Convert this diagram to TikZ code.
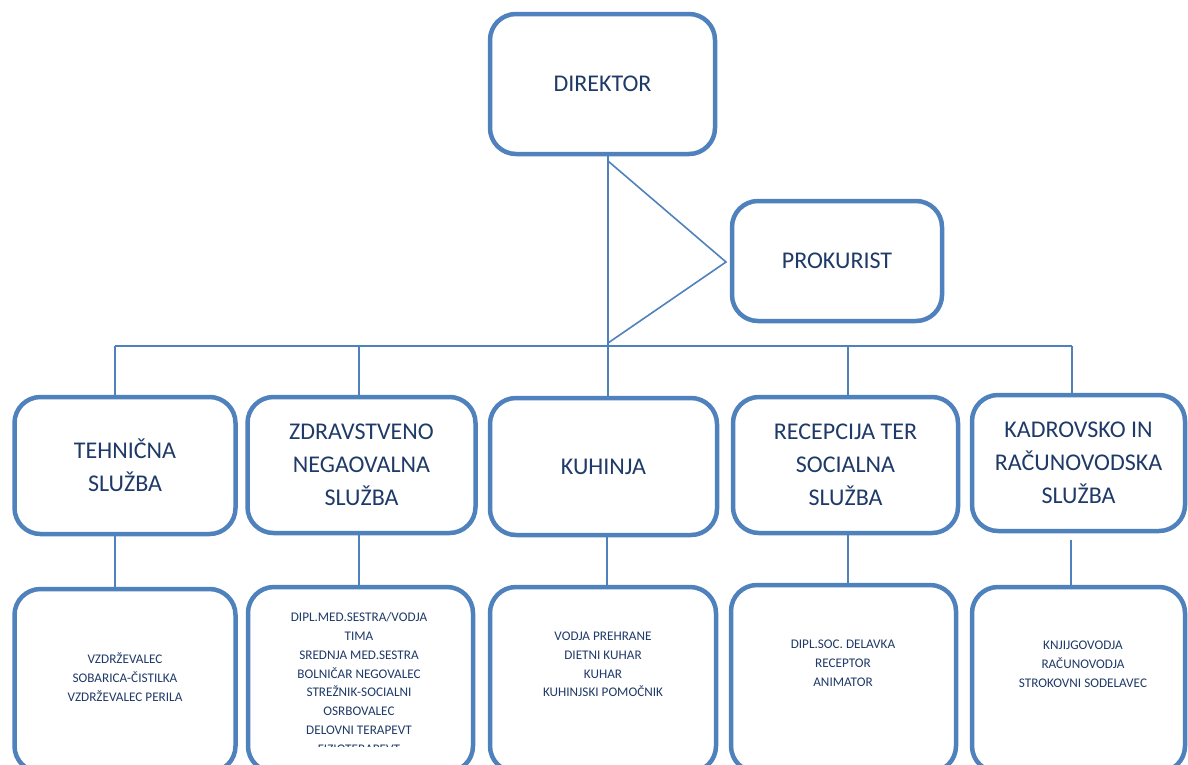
\documentclass[tikz,border=0pt]{standalone}
\usepackage{fontspec}
\setmainfont{Carlito}
\usepackage{xcolor}
\usepackage{tikz}
\definecolor{frame}{HTML}{4F81BD}
\definecolor{ink}{HTML}{1F3A68}
\tikzset{
  box/.style={draw=frame, line width=4.5pt, rounded corners=26pt, fill=white, inner sep=0pt},
  conn/.style={draw=frame, line width=1.6pt},
  head/.style={text=ink, font=\fontsize{24}{33}\selectfont, align=center},
  list/.style={text=ink, font=\fontsize{13.2}{18.8}\selectfont, align=center},
}

\begin{document}
\begin{tikzpicture}[x=1pt,y=-1pt]
  \useasboundingbox (0,0) rectangle (1188,764);
  \clip (0,0) rectangle (1188,764);

  % top of the chart
  \node[box, head, minimum width=225pt, minimum height=140pt] (dir) at (602.5,84) {DIREKTOR};
  \node[box, head, minimum width=210pt, minimum height=120pt] (prok) at (837,261) {PROKURIST};

  % services
  \node[box, head, minimum width=221pt, minimum height=137pt] (teh) at (125,465.5) {TEHNIČNA\\SLUŽBA};
  \node[box, head, minimum width=228pt, minimum height=136pt] (zdr) at (361.5,465) {ZDRAVSTVENO\\NEGAOVALNA\\SLUŽBA};
  \node[box, head, minimum width=227pt, minimum height=137pt] (kuh) at (603.5,466.5) {KUHINJA};
  \node[box, head, minimum width=225pt, minimum height=136pt] (rec) at (845.5,465) {RECEPCIJA TER\\SOCIALNA\\SLUŽBA};
  \node[box, head, minimum width=213pt, minimum height=136pt] (kad) at (1078.5,463) {KADROVSKO IN\\RAČUNOVODSKA\\SLUŽBA};

  % staff boxes, running off the page
  \node[box, minimum width=221pt, minimum height=183pt] (tehL) at (125,680.5) {};
  \node[box, minimum width=225pt, minimum height=185pt] (zdrL) at (360.5,679.5) {};
  \node[box, minimum width=226pt, minimum height=185pt] (kuhL) at (603,679.5) {};
  \node[box, minimum width=225pt, minimum height=187pt] (recL) at (843.5,678.5) {};
  \node[box, minimum width=213pt, minimum height=185pt] (kadL) at (1078.5,679.5) {};

  \node[list] (tehT) at (125,677) {VZDRŽEVALEC\\SOBARICA-ČISTILKA\\VZDRŽEVALEC PERILA};
  \begin{scope}
    \clip (250,595) rectangle (470,746);
    \node[list] (zdrT) at (359,683) {DIPL.MED.SESTRA/VODJA\\TIMA\\SREDNJA MED.SESTRA\\BOLNIČAR NEGOVALEC\\STREŽNIK-SOCIALNI\\OSRBOVALEC\\DELOVNI TERAPEVT\\FIZIOTERAPEVT};
  \end{scope}
  \node[list] (kuhT) at (603,664.5) {VODJA PREHRANE\\DIETNI KUHAR\\KUHAR\\KUHINJSKI POMOČNIK};
  \node[list] (recT) at (843,663.5) {DIPL.SOC. DELAVKA\\RECEPTOR\\ANIMATOR};
  \node[list] (kadT) at (1083,664) {KNJIJGOVODJA\\RAČUNOVODJA\\STROKOVNI SODELAVEC};

  % connectors
  \coordinate (stem) at (608,346);
  \coordinate (tip) at (726,262);
  \draw[conn] (stem |- dir.south) -- (stem |- kuh.north);
  \draw[conn] (608,161) -- (tip) -- (608,343);

  \coordinate (b1) at (115,346);
  \coordinate (b2) at (359,346);
  \coordinate (b3) at (607,346);
  \coordinate (b4) at (848,346);
  \coordinate (b5) at (1072,346);
  \coordinate (k5) at (1071,540);
  \draw[conn] (b1) -- (b5);
  \foreach \b/\up/\low in {b1/teh/tehL,b2/zdr/zdrL,b4/rec/recL}{
    \draw[conn] (\b) -- (\b |- \up.north);
    \draw[conn] (\b |- \up.south) -- (\b |- \low.north);
  }
  \draw[conn] (b3 |- kuh.south) -- (b3 |- kuhL.north);
  \draw[conn] (b5) -- (b5 |- kad.north);
  \draw[conn] (k5) -- (k5 |- kadL.north);
\end{tikzpicture}
\end{document}
